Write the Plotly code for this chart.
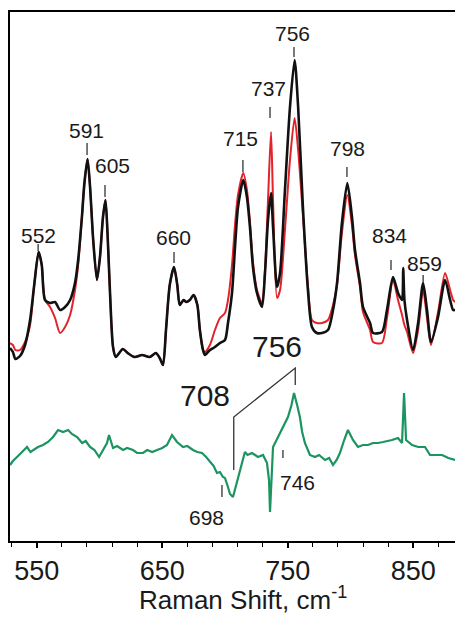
import plotly.graph_objects as go

# Raman shift grid (cm-1) for the two upper spectra
WN_TOP = [528.7, 531.0, 533.0, 536.7, 540.7, 544.7, 548.0, 551.5, 554.0, 556.6,
          560.6, 564.6, 568.6, 572.6, 576.6, 580.5, 583.0, 586.0, 588.0, 590.5,
          592.5, 595.0, 598.0, 600.4, 602.8, 604.8, 606.4, 608.4, 610.8, 613.0,
          618.6, 622.5, 628.0, 634.0, 640.0, 645.0, 648.0, 650.6, 653.0, 656.0,
          659.4, 662.0, 664.0, 667.0, 669.0, 672.0, 675.0, 678.0, 680.0, 682.5,
          684.0, 688.0, 692.0, 696.0, 700.0, 702.4, 705.6, 708.0, 710.4, 714.6,
          717.5, 719.9, 722.3, 725.5, 729.5, 731.9, 734.3, 736.7, 738.3, 741.5,
          743.9, 747.8, 751.8, 755.5, 758.3, 762.1, 766.1, 769.3, 773.2, 777.3,
          782.1, 786.1, 789.3, 793.2, 797.5, 801.2, 803.6, 807.6, 810.0, 815.6,
          818.0, 825.1, 829.1, 833.9, 837.9, 841.1, 842.0, 843.0, 845.1, 849.9,
          853.9, 857.9, 861.0, 864.2, 869.8, 875.4, 879.4, 881.8, 883.4]

# black spectrum (arbitrary intensity units)
BLACK = [193, 189, 182, 185, 196, 221, 256, 289, 276, 241,
         238, 239, 231, 234, 241, 258, 281, 324, 358, 382,
         354, 301, 261, 284, 324, 341, 308, 248, 194, 184,
         192, 188, 184, 186, 184, 188, 183, 176, 211, 256,
         274, 256, 236, 241, 239, 241, 246, 236, 211, 191,
         186, 191, 194, 198, 201, 218, 248, 294, 334, 361,
         344, 314, 274, 248, 234, 268, 321, 348, 314, 254,
         268, 351, 434, 481, 434, 334, 251, 214, 208, 208,
         211, 231, 258, 318, 358, 324, 291, 258, 234, 218,
         208, 209, 231, 264, 248, 241, 273, 241, 221, 191,
         218, 258, 231, 199, 224, 261, 241, 231, 231]

# red spectrum (arbitrary intensity units)
RED = [198, 196, 191, 191, 199, 216, 256, 289, 276, 241,
       234, 223, 208, 214, 226, 251, 276, 324, 358, 382,
       354, 301, 261, 284, 324, 341, 308, 248, 194, 184,
       192, 188, 184, 186, 184, 188, 183, 176, 211, 256,
       274, 256, 236, 241, 239, 241, 246, 236, 211, 191,
       189, 196, 211, 223, 228, 241, 276, 316, 346, 368,
       351, 319, 279, 251, 238, 271, 341, 409, 341, 243,
       251, 311, 381, 423, 391, 326, 256, 221, 218, 218,
       221, 236, 256, 308, 346, 316, 286, 254, 229, 211,
       199, 198, 223, 261, 241, 226, 221, 216, 209, 188,
       211, 251, 223, 196, 229, 268, 251, 241, 239]

# difference spectrum (green)
WN_DIFF = [528.7, 531.0, 534.3, 538.0, 542.3, 545.0, 547.1, 551.0, 555.0, 559.0,
           563.0, 567.0, 571.0, 575.0, 578.0, 582.2, 586.2, 589.0, 592.5, 596.0,
           599.7, 603.0, 606.0, 607.6, 610.8, 614.0, 618.8, 622.0, 626.7, 630.0,
           634.7, 638.0, 642.0, 645.9, 650.0, 653.8, 657.8, 661.8, 666.6, 670.0,
           674.5, 678.0, 681.7, 685.0, 688.0, 691.0, 693.6, 696.0, 698.4, 700.0,
           702.4, 704.0, 706.4, 708.8, 711.9, 715.9, 718.0, 721.5, 724.0, 726.3,
           730.3, 733.5, 735.1, 735.9, 736.7, 738.3, 742.3, 746.2, 750.2, 753.0,
           755.0, 757.5, 759.7, 761.5, 763.7, 767.7, 771.7, 775.0, 779.7, 783.0,
           786.1, 789.0, 791.6, 795.0, 798.0, 802.0, 806.0, 810.0, 814.0, 818.0,
           822.0, 826.0, 830.0, 833.1, 837.9, 841.1, 842.7, 844.3, 849.1, 854.0,
           859.4, 863.4, 868.0, 873.0, 878.0, 883.4]
DIFF = [76, 80, 84, 89, 94, 89, 91, 94, 96, 99,
        104, 111, 109, 111, 107, 104, 98, 100, 94, 91,
        84, 91, 98, 106, 93, 95, 91, 93, 91, 88,
        88, 91, 89, 91, 93, 96, 106, 99, 94, 95,
        91, 89, 88, 84, 79, 75, 68, 69, 64, 63,
        54, 47, 44, 56, 71, 89, 86, 88, 86, 84,
        86, 78, 61, 29, 51, 94, 104, 114, 124, 136,
        148, 136, 124, 109, 98, 86, 84, 86, 81, 83,
        76, 81, 88, 101, 111, 101, 94, 96, 96, 98,
        98, 99, 100, 101, 103, 98, 148, 101, 96, 94,
        94, 86, 86, 86, 83, 81]

# peak labels: text, label x, label y, tick x, tick y0, tick y1
PEAK_TEXT = ["552", "591", "605", "660", "715", "737", "756", "798", "834", "859", "746", "698"]
PEAK_LX = [551.1, 589.3, 610.0, 658.6, 712.0, 734.3, 754.2, 798.0, 831.5, 858.6, 757.4, 685.6]
PEAK_LY = [306, 411, 376, 304, 403, 453, 508, 393, 306, 278, 59, 24]
PEAK_TX = [551.1, 590.1, 604.4, 659.4, 714.3, 735.9, 755.0, 797.2, 832.3, 857.9, 746.2, 697.6]
PEAK_T0 = [290, 386, 344, 278, 369, 423, 484, 364, 271, 259, 83, 44]
PEAK_T1 = [297, 398, 356, 289, 381, 434, 494, 374, 281, 266, 91, 56]

BIG_TEXT = ["708", "756"]
BIG_X = [684.0, 741.5]
BIG_Y = [146, 195]

FONT = "Liberation Sans, Arial, Helvetica, sans-serif"

fig = go.Figure()
fig.add_trace(go.Scatter(x=WN_TOP, y=RED, mode="lines",
                         line=dict(color="#e3232b", width=2, shape="spline", smoothing=0.7),
                         hoverinfo="skip"))
fig.add_trace(go.Scatter(x=WN_TOP, y=BLACK, mode="lines",
                         line=dict(color="#111111", width=2.6, shape="spline", smoothing=0.7),
                         hoverinfo="skip"))
fig.add_trace(go.Scatter(x=WN_DIFF, y=DIFF, mode="lines",
                         line=dict(color="#1b9460", width=2.2), hoverinfo="skip"))

for t, lx, ly, tx, t0, t1 in zip(PEAK_TEXT, PEAK_LX, PEAK_LY, PEAK_TX, PEAK_T0, PEAK_T1):
    fig.add_annotation(x=lx, y=ly, text=t, showarrow=False, xref="x", yref="y",
                       font=dict(family=FONT, size=21, color="#1a1a1a"))
    fig.add_shape(type="line", x0=tx, x1=tx, y0=t0, y1=t1, xref="x", yref="y",
                  line=dict(color="#333333", width=1.3))

for t, lx, ly in zip(BIG_TEXT, BIG_X, BIG_Y):
    fig.add_annotation(x=lx, y=ly, text=t, showarrow=False, xref="x", yref="y",
                       font=dict(family=FONT, size=30, color="#1a1a1a"))

# leader lines from the 708 / 756 labels
fig.add_shape(type="path", xref="x", yref="y",
              path="M 707 71 L 707 124 L 756 173 L 756 156",
              line=dict(color="#333333", width=1.3))

# x-axis title
fig.add_annotation(x=0.524, y=-0.108, xref="paper", yref="paper",
                   text="Raman Shift, cm<sup>-1</sup>", showarrow=False,
                   xanchor="center", yanchor="middle",
                   font=dict(family=FONT, size=26, color="#1a1a1a"))

fig.update_layout(
    width=455, height=618,
    margin=dict(l=10, r=0, t=12, b=77),
    paper_bgcolor="white", plot_bgcolor="white",
    showlegend=False,
    font=dict(family=FONT, color="#1a1a1a"),
    xaxis=dict(range=[528.7, 883.3], showline=True, linecolor="black", linewidth=2,
               mirror=True, showgrid=False, zeroline=False,
               tickvals=[550, 650, 750, 850], ticks="outside", ticklen=5,
               tickwidth=1.5, tickcolor="black",
               minor=dict(dtick=20, tick0=550, ticks="outside", ticklen=4,
                          tickcolor="black", tickwidth=1.2),
               tickfont=dict(family=FONT, size=27, color="#1a1a1a")),
    yaxis=dict(range=[0, 529], showline=True, linecolor="black", linewidth=2,
               showticklabels=False, ticks="", showgrid=False, zeroline=False),
)

fig.write_html("out.html")
